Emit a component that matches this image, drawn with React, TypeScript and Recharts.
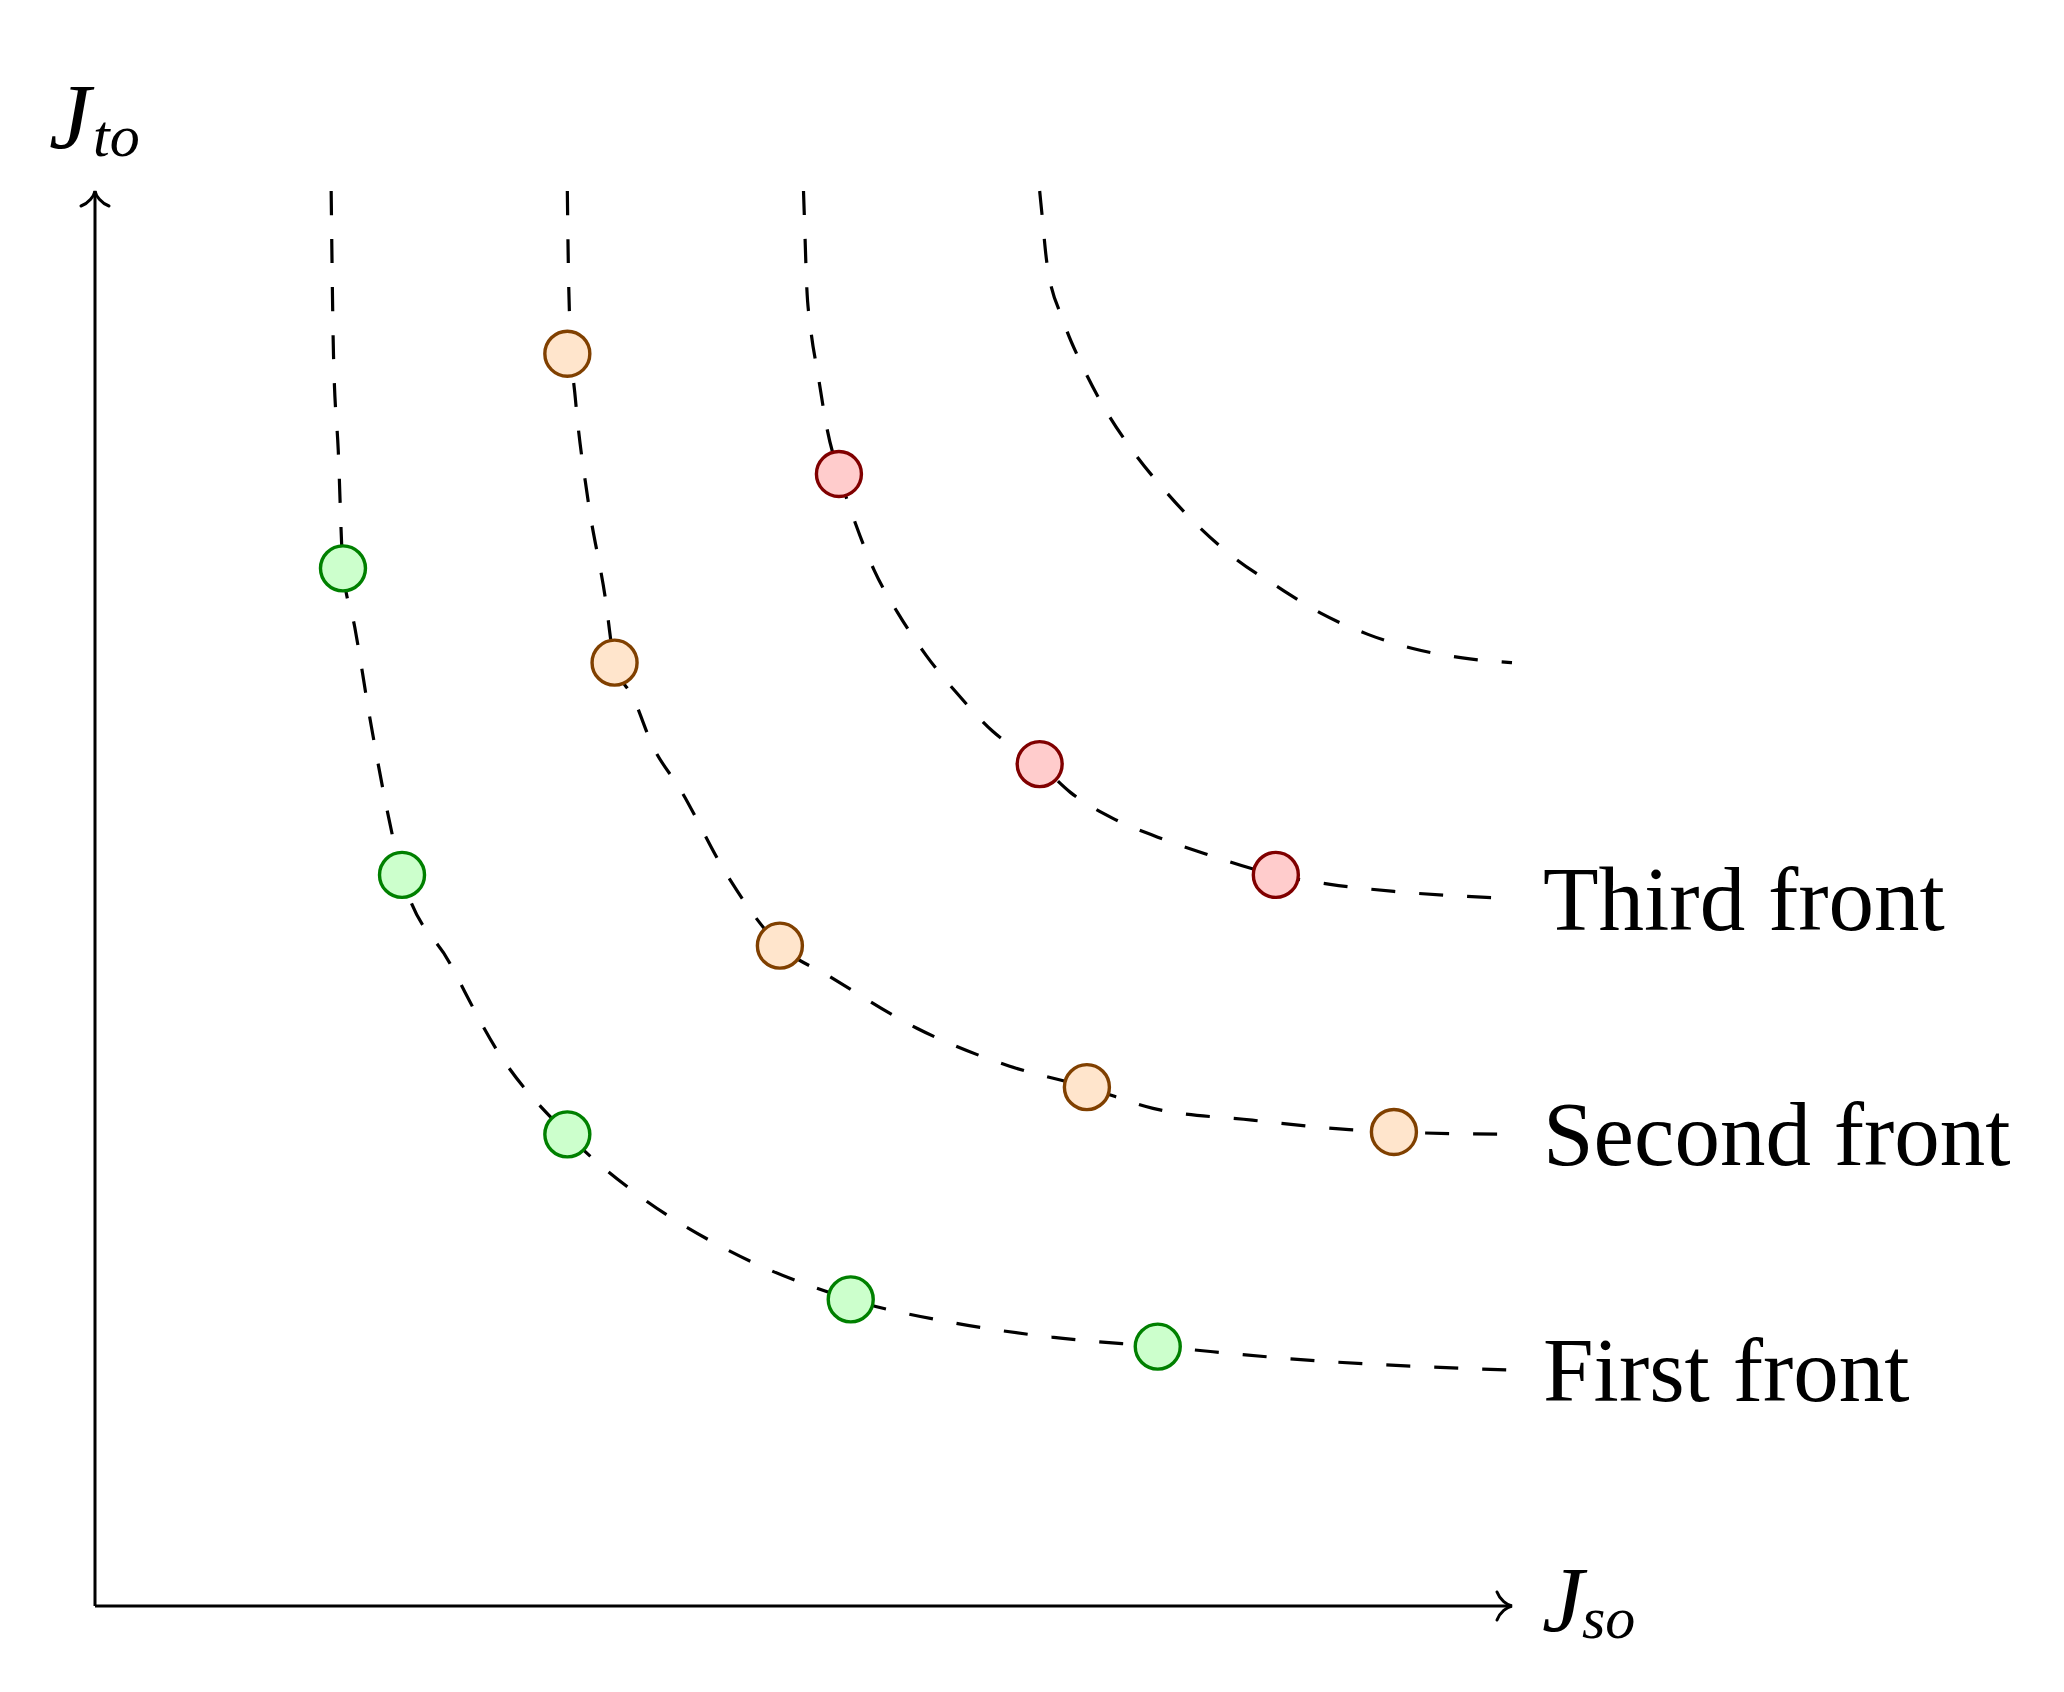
import React from "react";
import { ComposedChart, Line, Scatter, XAxis, YAxis, ReferenceDot, ReferenceLine } from "recharts";

// dashed front curves (axis units 0..6)
const firstFrontCurve = [
  { x: 1.0, y: 6.0 }, { x: 1.01, y: 5.3 }, { x: 1.03, y: 4.9 }, { x: 1.05, y: 4.4 },
  { x: 1.1, y: 4.15 }, { x: 1.17, y: 3.73 }, { x: 1.3, y: 3.1 }, { x: 1.5, y: 2.73 },
  { x: 1.7, y: 2.36 }, { x: 2.0, y: 2.0 }, { x: 2.29, y: 1.75 }, { x: 2.64, y: 1.53 },
  { x: 3.2, y: 1.3 }, { x: 3.64, y: 1.2 }, { x: 4.05, y: 1.14 }, { x: 4.5, y: 1.1 },
  { x: 5.17, y: 1.04 }, { x: 6.0, y: 1.0 },
];
const secondFrontCurve = [
  { x: 2.0, y: 6.0 }, { x: 2.004, y: 5.7 }, { x: 2.012, y: 5.4 }, { x: 2.034, y: 5.12 },
  { x: 2.086, y: 4.7 }, { x: 2.16, y: 4.28 }, { x: 2.2, y: 4.0 }, { x: 2.28, y: 3.85 },
  { x: 2.36, y: 3.65 }, { x: 2.48, y: 3.46 }, { x: 2.67, y: 3.11 }, { x: 2.9, y: 2.8 },
  { x: 3.11, y: 2.67 }, { x: 3.48, y: 2.45 }, { x: 3.87, y: 2.29 }, { x: 4.2, y: 2.2 },
  { x: 4.48, y: 2.11 }, { x: 4.9, y: 2.06 }, { x: 5.31, y: 2.02 }, { x: 5.5, y: 2.01 },
  { x: 6.0, y: 2.0 },
];
const thirdFrontCurve = [
  { x: 3.0, y: 6.0 }, { x: 3.006, y: 5.82 }, { x: 3.013, y: 5.61 }, { x: 3.03, y: 5.42 },
  { x: 3.06, y: 5.23 }, { x: 3.1, y: 4.99 }, { x: 3.15, y: 4.8 }, { x: 3.22, y: 4.59 },
  { x: 3.3, y: 4.39 }, { x: 3.4, y: 4.21 }, { x: 3.52, y: 4.03 }, { x: 3.65, y: 3.87 },
  { x: 3.8, y: 3.71 }, { x: 4.0, y: 3.57 }, { x: 4.13, y: 3.45 }, { x: 4.31, y: 3.34 },
  { x: 4.5, y: 3.26 }, { x: 4.7, y: 3.19 }, { x: 5.0, y: 3.1 }, { x: 5.23, y: 3.06 },
  { x: 5.5, y: 3.03 }, { x: 6.0, y: 3.0 },
];
const fourthFrontCurve = [
  { x: 4.0, y: 6.0 }, { x: 4.01, y: 5.9 }, { x: 4.03, y: 5.7 }, { x: 4.1, y: 5.45 },
  { x: 4.18, y: 5.26 }, { x: 4.28, y: 5.07 }, { x: 4.4, y: 4.89 }, { x: 4.53, y: 4.73 },
  { x: 4.67, y: 4.58 }, { x: 4.83, y: 4.44 }, { x: 5.01, y: 4.32 }, { x: 5.19, y: 4.21 },
  { x: 5.39, y: 4.12 }, { x: 5.58, y: 4.06 }, { x: 5.79, y: 4.02 }, { x: 6.0, y: 4.0 },
];

// solutions on each front
const firstFrontPoints = [
  { x: 1.05, y: 4.4 }, { x: 1.3, y: 3.1 }, { x: 2.0, y: 2.0 }, { x: 3.2, y: 1.3 }, { x: 4.5, y: 1.1 },
];
const secondFrontPoints = [
  { x: 2.0, y: 5.31 }, { x: 2.2, y: 4.0 }, { x: 2.9, y: 2.8 }, { x: 4.2, y: 2.2 }, { x: 5.5, y: 2.01 },
];
const thirdFrontPoints = [
  { x: 3.15, y: 4.8 }, { x: 4.0, y: 3.57 }, { x: 5.0, y: 3.1 },
];

const frontLabels = [
  { y: 1, text: "First front" },
  { y: 2, text: "Second front" },
  { y: 3, text: "Third front" },
];

const FONT = "'Liberation Serif', 'Times New Roman', serif";
const INK = "#000";

const dotShape = (fill: string, stroke: string) => (p: any) =>
  <circle cx={p.cx} cy={p.cy} r={22.5} fill={fill} stroke={stroke} strokeWidth={3.4} />;

const curveProps = {
  type: "monotone" as const,
  dataKey: "y",
  stroke: INK,
  strokeWidth: 3.2,
  strokeDasharray: "24 24",
  dot: false,
  activeDot: false,
  isAnimationActive: false,
};

export default function App() {
  return (
    <ComposedChart width={2048} height={1676} margin={{ top: 183, right: 544, bottom: 78, left: 87 }}>
      <XAxis type="number" dataKey="x" domain={[0, 6]} hide />
      <YAxis type="number" dataKey="y" domain={[0, 6]} hide />

      {/* axes */}
      <ReferenceLine segment={[{ x: 0, y: 0 }, { x: 6, y: 0 }]} stroke={INK} strokeWidth={3} ifOverflow="visible" />
      <ReferenceLine segment={[{ x: 0, y: 0 }, { x: 0, y: 6 }]} stroke={INK} strokeWidth={3} ifOverflow="visible" />

      <Line data={firstFrontCurve} {...curveProps} />
      <Line data={secondFrontCurve} {...curveProps} />
      <Line data={thirdFrontCurve} {...curveProps} />
      <Line data={fourthFrontCurve} {...curveProps} />

      <Scatter data={firstFrontPoints} shape={dotShape("#ccffcc", "#008000")} isAnimationActive={false} />
      <Scatter data={secondFrontPoints} shape={dotShape("#ffe5cc", "#804000")} isAnimationActive={false} />
      <Scatter data={thirdFrontPoints} shape={dotShape("#ffcccc", "#800000")} isAnimationActive={false} />

      {/* axis arrow heads + labels */}
      <ReferenceDot x={6} y={0} r={0} ifOverflow="visible" shape={(p: any) => (
        <g>
          <path d={`M${p.cx - 15},${p.cy - 14} C${p.cx - 12},${p.cy - 6} ${p.cx - 5},${p.cy - 1} ${p.cx},${p.cy} C${p.cx - 5},${p.cy + 1} ${p.cx - 12},${p.cy + 6} ${p.cx - 15},${p.cy + 14}`}
            fill="none" stroke={INK} strokeWidth={3} strokeLinecap="round" />
          <text x={p.cx + 30} y={p.cy + 25} fontFamily={FONT} fontStyle="italic" fontSize={94}>J</text>
          <text x={p.cx + 70} y={p.cy + 32} fontFamily={FONT} fontStyle="italic" fontSize={60}>so</text>
        </g>
      )} />
      <ReferenceDot x={0} y={6} r={0} ifOverflow="visible" shape={(p: any) => (
        <g>
          <path d={`M${p.cx - 14},${p.cy + 15} C${p.cx - 6},${p.cy + 12} ${p.cx - 1},${p.cy + 5} ${p.cx},${p.cy} C${p.cx + 1},${p.cy + 5} ${p.cx + 6},${p.cy + 12} ${p.cx + 14},${p.cy + 15}`}
            fill="none" stroke={INK} strokeWidth={3} strokeLinecap="round" />
          <text x={p.cx - 46} y={p.cy - 43} fontFamily={FONT} fontStyle="italic" fontSize={94}>J</text>
          <text x={p.cx - 2} y={p.cy - 35} fontFamily={FONT} fontStyle="italic" fontSize={60}>to</text>
        </g>
      )} />

      {frontLabels.map((l) => (
        <ReferenceDot key={l.text} x={6} y={l.y} r={0} ifOverflow="visible" shape={(p: any) => (
          <text x={p.cx + 31} y={p.cy + 31} fontFamily={FONT} fontSize={91}>{l.text}</text>
        )} />
      ))}
    </ComposedChart>
  );
}
